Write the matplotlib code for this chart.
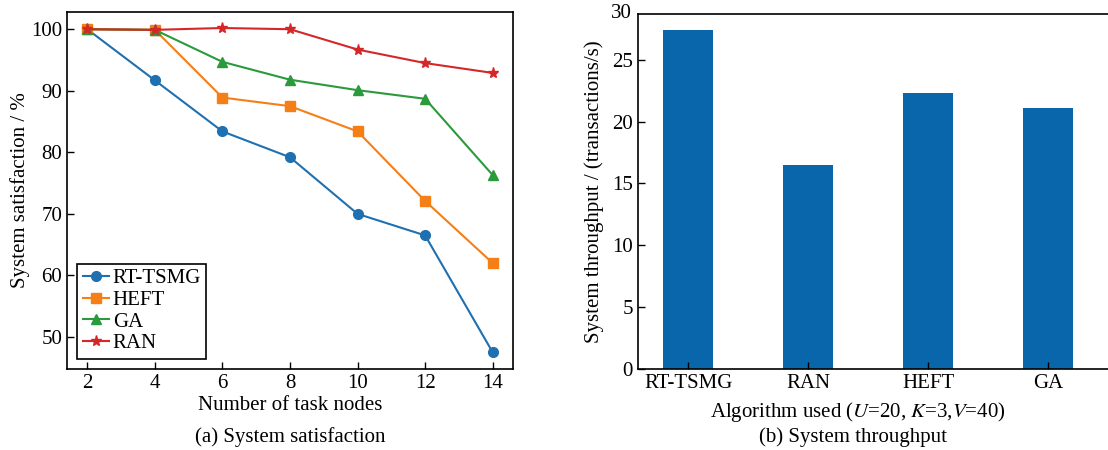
import matplotlib
matplotlib.use("Agg")
import matplotlib.pyplot as plt

plt.rcParams['font.family'] = ['Liberation Serif', 'DejaVu Serif']
plt.rcParams['mathtext.fontset'] = 'stix'

# (a) system satisfaction
task_nodes = [2, 4, 6, 8, 10, 12, 14]
rt_tsmg = [100, 91.7, 83.4, 79.2, 70.0, 66.5, 47.5]
heft = [100, 99.9, 88.9, 87.5, 83.4, 72.1, 62.0]
ga = [100, 99.9, 94.7, 91.8, 90.1, 88.7, 76.3]
ran = [100, 99.9, 100.2, 100.0, 96.7, 94.5, 92.9]

# (b) system throughput
algorithms = ['RT-TSMG', 'RAN', 'HEFT', 'GA']
throughput = [27.4, 16.5, 22.3, 21.1]

FS = 15

fig = plt.figure(figsize=(11.08, 4.5), dpi=100)

# ---- left panel
ax1 = fig.add_axes([67 / 1108, 81 / 450, 446 / 1108, 357 / 450])
series = [
    (rt_tsmg, 'RT-TSMG', '#1f70b0', 'o', 7),
    (heft, 'HEFT', '#f57f17', 's', 7),
    (ga, 'GA', '#2a9a3c', '^', 7),
    (ran, 'RAN', '#d62728', '*', 8),
]
for vals, name, col, mk, ms in series:
    ax1.plot(task_nodes, vals, color=col, marker=mk, markersize=ms,
             linewidth=1.5, label=name)

ax1.set_xlim(1.4, 14.6)
ax1.set_ylim(44.8, 102.8)
ax1.set_xticks(task_nodes)
ax1.set_yticks([50, 60, 70, 80, 90, 100])
ax1.tick_params(direction='in', labelsize=FS, length=5, width=1,
                top=False, right=False)
for s in ax1.spines.values():
    s.set_linewidth(1.2)
ax1.set_ylabel('System satisfaction / %', fontsize=FS, labelpad=1)
ax1.set_xlabel('Number of task nodes', fontsize=FS, labelpad=2)
leg = ax1.legend(loc='lower left', fontsize=FS, fancybox=False,
                 edgecolor='black', framealpha=1, handlelength=1.25,
                 handletextpad=0.2, labelspacing=0.1, borderpad=0.25,
                 borderaxespad=0.5)
leg.get_frame().set_linewidth(1.2)
fig.text(290 / 1108, 1 - 437 / 450, '(a) System satisfaction',
         fontsize=FS, ha='center', va='center')

# ---- right panel
ax2 = fig.add_axes([637.7 / 1108, 81 / 450, 470.3 / 1108, 355 / 450])
ax2.bar(range(len(algorithms)), throughput, width=0.42, color='#0a66aa')
ax2.set_xlim(-0.42, 3.5)
ax2.set_ylim(0, 28.7)
ax2.set_xticks(range(len(algorithms)))
ax2.set_xticklabels(algorithms)
ax2.set_yticks([0, 5, 10, 15, 20, 25])
ax2.tick_params(direction='in', labelsize=FS, length=5, width=1,
                top=False, right=False)
ax2.spines['right'].set_visible(False)
for s in ax2.spines.values():
    s.set_linewidth(1.2)
ax2.text(-0.012, 1.0, '30', transform=ax2.transAxes, fontsize=FS,
         ha='right', va='center')
ax2.set_ylabel('System throughput / (transactions/s)', fontsize=FS,
               labelpad=6)
fig.text(858 / 1108, 1 - 412 / 450,
         r'Algorithm used ($U$=20, $K$=3,$V$=40)',
         fontsize=FS, ha='center', va='center')
fig.text(853 / 1108, 1 - 437 / 450, '(b) System throughput',
         fontsize=FS, ha='center', va='center')

fig.savefig('out.png', dpi=100)
